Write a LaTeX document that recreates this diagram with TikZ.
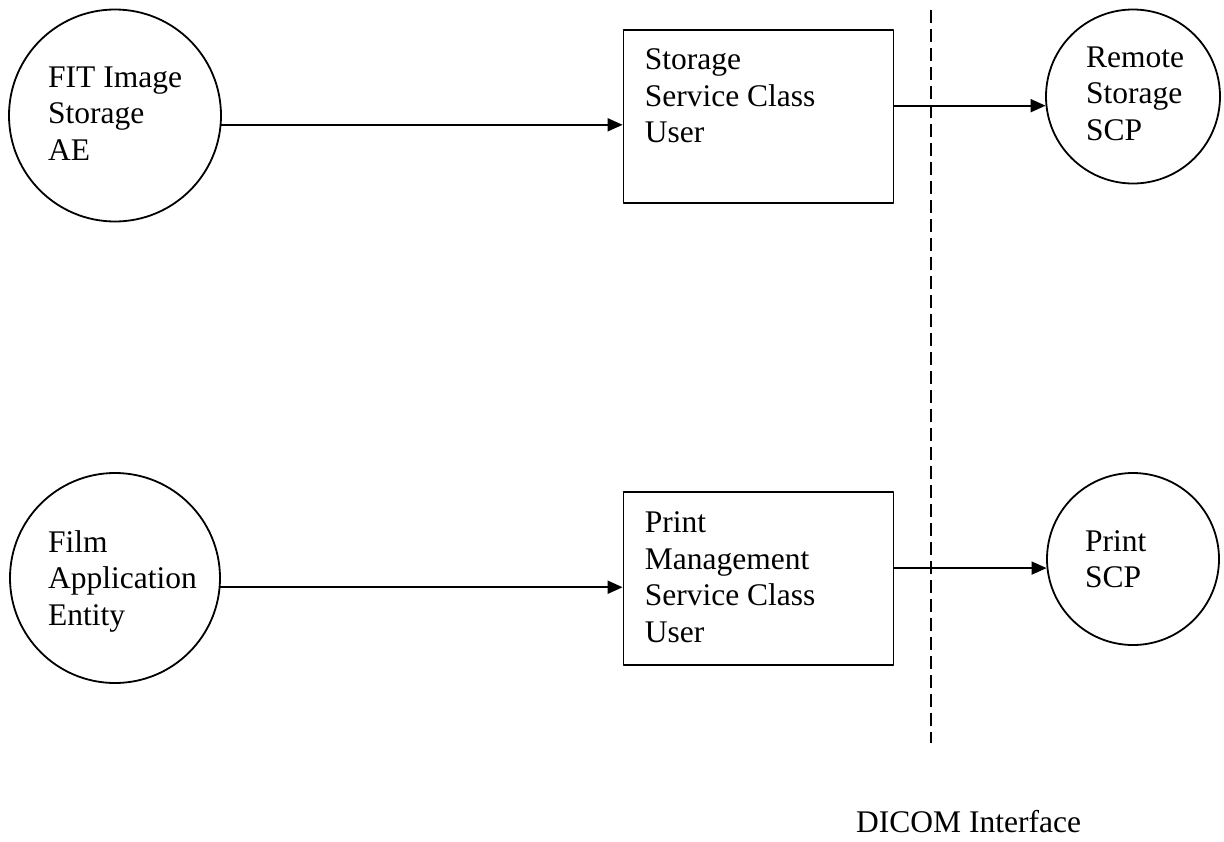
\documentclass[tikz,border=0pt]{standalone}
\usepackage{fontspec}
\setmainfont{Liberation Serif}
\usetikzlibrary{arrows.meta, shapes, positioning}

\begin{document}
\begin{tikzpicture}[
        x=1pt, y=-1pt,
        line join=bevel,
        aenode/.style={shape=circle, draw=black, line width=1.8pt, inner sep=0pt},
        scubox/.style={shape=rectangle, draw=black, line width=1.8pt, inner sep=0pt, minimum width=270pt, minimum height=173pt},
        nodetext/.style={anchor=north west, inner sep=0pt, align=left, font=\fontsize{31.5}{36.5}\selectfont},
        flow/.style={-{Triangle[length=15pt, width=13pt]}, line width=1.8pt},
        interface/.style={line width=1.5pt, dash pattern=on 13pt off 6pt}
        ]
    \useasboundingbox (0,0) rectangle (1224,841);

    %% Application entities
    \node[aenode, minimum size=212pt] (fit) at (115,115.5) {};
    \node[aenode, minimum size=210pt] (film) at (115,578) {};
    \node[nodetext] (fittext) at ([shift={(-67,-54)}]fit.center) {\strut FIT Image\\Storage\\AE};
    \node[nodetext] (filmtext) at ([shift={(-67,-51.5)}]film.center) {\strut Film\\Application\\Entity};

    %% Service class users
    \node[scubox] (scu) at (758.5,116.5) {};
    \node[scubox] (pmscu) at (758.5,578.5) {};
    \node[nodetext, below right=15pt and 22pt of scu.north west] (scutext) {\strut Storage\\Service Class\\User};
    \node[nodetext, below right=16pt and 22pt of pmscu.north west] (pmscutext) {\strut Print\\Management\\Service Class\\User};

    %% Remote providers
    \node[aenode, minimum size=174pt] (remote) at (1133,96.5) {};
    \node[aenode, minimum size=172pt] (printscp) at (1133,559) {};
    \node[nodetext] (remotetext) at ([shift={(-47,-55)}]remote.center) {\strut Remote\\Storage\\SCP};
    \node[nodetext] (printtext) at ([shift={(-48,-33.5)}]printscp.center) {\strut Print\\SCP};

    %% Connectors
    \draw[flow] (fit.-5.6) -- (fit.-5.6 -| scu.west);
    \draw[flow] (film.-5.4) -- (film.-5.4 -| pmscu.west);
    \draw[flow] (scu.east |- remote.186.9) -- (remote.186.9);
    \draw[flow] (pmscu.east |- printscp.186.6) -- (printscp.186.6);

    %% Interface
    \coordinate (ifacetop) at (931,10);
    \coordinate (ifacebot) at (931,743);
    \draw[interface] (ifacetop) -- (ifacebot);
    \node[anchor=base west, inner sep=0pt, font=\fontsize{31.5}{36.5}\selectfont] (dicom) at (856,832) {DICOM Interface};
\end{tikzpicture}
\end{document}
